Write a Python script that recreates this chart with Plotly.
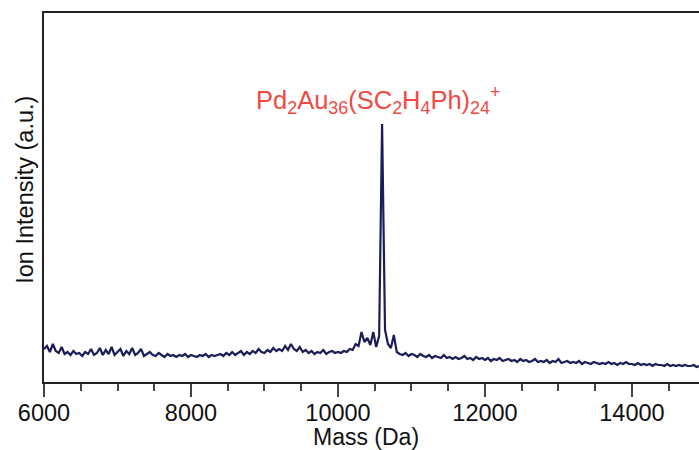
import plotly.graph_objects as go

# ---- data ----
mass_start = 6000   # Da
mass_step = 40      # Da
intensity = [
    33, 36, 30, 38, 31, 29, 35, 28, 30, 27,
    31, 28, 29, 26, 30, 28, 33, 27, 29, 34,
    27, 32, 28, 35, 27, 30, 33, 26, 31, 28,
    34, 27, 29, 33, 26, 28, 30, 27, 26, 29,
    27, 25, 28, 26, 27, 25, 27, 26, 28, 25,
    27, 26, 25, 27, 26, 28, 25, 27, 26, 27,
    28, 26, 29, 27, 30, 27, 29, 31, 27, 30,
    28, 31, 29, 33, 30, 29, 32, 30, 34, 31,
    33, 31, 36, 32, 38, 33, 31, 35, 30, 32,
    29, 31, 28, 30, 29, 32, 28, 30, 31, 29,
    30, 29, 31, 30, 33, 32, 38, 36, 50, 40,
    44, 37, 50, 35, 46, 258, 52, 38, 34, 47,
    30, 28, 27, 29, 26, 28, 27, 25, 28, 26,
    25, 27, 24, 26, 25, 24, 27, 24, 25, 23,
    25, 23, 24, 26, 23, 24, 22, 25, 23, 24,
    22, 24, 21, 23, 22, 24, 21, 22, 23, 21,
    22, 20, 23, 21, 22, 20, 21, 23, 20, 21,
    20, 22, 19, 21, 20, 23, 19, 20, 21, 19,
    20, 19, 21, 18, 20, 19, 18, 20, 19, 18,
    19, 18, 20, 18, 19, 17, 19, 18, 20, 18,
    18, 17, 19, 17, 18, 17, 18, 16, 18, 17,
    17, 16, 18, 16, 17, 16, 17, 16, 17, 16,
    16, 17, 15, 16,
]
mass = [mass_start + i * mass_step for i in range(len(intensity))]

peak_label = "Pd<sub>2</sub>Au<sub>36</sub>(SC<sub>2</sub>H<sub>4</sub>Ph)<sub>24</sub><sup>+</sup>"
peak_label_pos = (10544, 282)
x_title = "Mass (Da)"
y_title = "Ion Intensity (a.u.)"
x_range = [6000, 14912]
y_range = [0, 369]
x_ticks = [6000, 8000, 10000, 12000, 14000]

FONT = "Liberation Sans, Arial, Helvetica, sans-serif"

fig = go.Figure()
fig.add_trace(go.Scatter(
    x=mass, y=intensity, mode="lines",
    line=dict(color="#1c1c58", width=2.2),
    hoverinfo="skip", showlegend=False,
))

fig.update_layout(
    width=699, height=450,
    margin=dict(l=44, r=0, t=13, b=68),
    paper_bgcolor="white", plot_bgcolor="white",
    font=dict(family=FONT, size=23, color="#111"),
    xaxis=dict(
        range=x_range, showgrid=False, zeroline=False,
        showline=True, linecolor="#222", linewidth=2, mirror=True,
        tickmode="array", tickvals=x_ticks, ticktext=[str(t) for t in x_ticks],
        ticks="outside", ticklen=13, tickwidth=2, tickcolor="#444",
        ticklabelstandoff=-4,
        minor=dict(dtick=500, tick0=6000, ticks="outside", ticklen=7,
                   tickwidth=2, tickcolor="#444", showgrid=False),
        tickfont=dict(family=FONT, size=23.5, color="#111"),
    ),
    yaxis=dict(
        range=y_range, showgrid=False, zeroline=False,
        showline=True, linecolor="#222", linewidth=2,
        showticklabels=False, ticks="",
    ),
    annotations=[
        dict(x=peak_label_pos[0], y=peak_label_pos[1], xref="x", yref="y",
             text=peak_label, showarrow=False, xanchor="center", yanchor="middle",
             font=dict(family=FONT, size=25.5, color="#ef4a44")),
        dict(x=(366 - 44) / 655, y=(381.5 - 436) / 368.5, xref="paper", yref="paper",
             text=x_title, showarrow=False, xanchor="center", yanchor="middle",
             font=dict(family=FONT, size=23, color="#111")),
        dict(x=(25 - 44) / 655, y=(381.5 - 189.5) / 368.5, xref="paper", yref="paper",
             text=y_title, showarrow=False, textangle=-90,
             xanchor="center", yanchor="middle",
             font=dict(family=FONT, size=23.5, color="#111")),
    ],
)

fig.write_html("out.html")
